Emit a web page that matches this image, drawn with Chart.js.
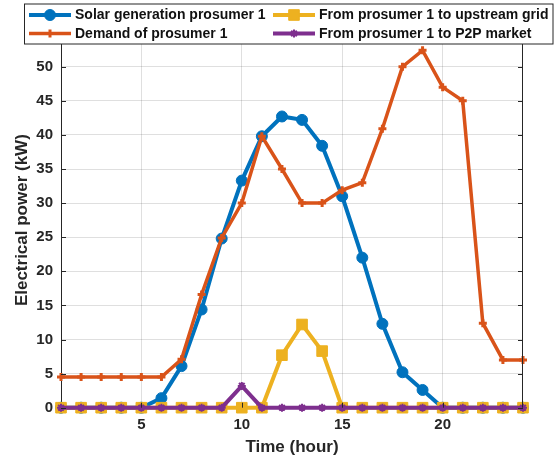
<!DOCTYPE html>
<html>
<head>
<meta charset="utf-8">
<title>Prosumer 1 power</title>
<script src="https://cdn.jsdelivr.net/npm/chart.js@4/dist/chart.umd.min.js"></script>
<style>
  body { margin: 0; background: #fff; }
  #wrap { width: 555px; height: 460px; }
</style>
</head>
<body>
<div id="wrap"><canvas id="chart1" width="555" height="460"></canvas></div>
<script>
// data, one value per hour
const hours = [1,2,3,4,5,6,7,8,9,10,11,12,13,14,15,16,17,18,19,20,21,22,23,24];
const solar = [0,0,0,0,0,1.4,6.1,14.4,24.8,33.3,39.8,42.7,42.2,38.4,31.0,22.0,12.3,5.2,2.6,0,0,0,0,0];
const demand = [4.5,4.5,4.5,4.5,4.5,4.5,7.1,16.6,24.9,30.0,39.8,35.0,30.0,30.0,31.9,33.0,40.9,50.0,52.4,47.0,45.0,12.4,7.0,7.0];
const toGrid = [0,0,0,0,0,0,0,0,0,0,0,7.7,12.2,8.3,0,0,0,0,0,0,0,0,0,0];
const toP2P = [0,0,0,0,0,0,0,0,0,3.2,0,0,0,0,0,0,0,0,0,0,0,0,0,0];

const xTicks = [5, 10, 15, 20];
const yTicks = [0, 5, 10, 15, 20, 25, 30, 35, 40, 45, 50];

const labels = [
  "Solar generation prosumer 1",
  "Demand of prosumer 1",
  "From prosumer 1 to upstream grid",
  "From prosumer 1 to P2P market"
];

const BLUE = "#0072BD", ORANGE = "#D95319", YELLOW = "#EDB120", PURPLE = "#7E2F8E";
const AXIS = "#262626";
const FONT = "'Liberation Sans', Arial, Helvetica, sans-serif";

function pts(ys) {
  return hours.map((h, i) => ({ x: h, y: ys[i] }));
}

function series(label, ys, color, style, radius, pbw, lw, order) {
  return {
    label: label,
    data: pts(ys),
    borderColor: color,
    backgroundColor: color,
    borderWidth: lw,
    pointStyle: style,
    pointRadius: radius,
    pointBorderWidth: pbw,
    pointBackgroundColor: color,
    pointBorderColor: color,
    tension: 0,
    clip: false,
    order: order
  };
}

const datasets = [
  series(labels[0], solar, BLUE, "circle", 5.5, 1, 4, 3),
  series(labels[1], demand, ORANGE, "cross", 4, 3, 3.5, 2),
  series(labels[2], toGrid, YELLOW, "rect", 7.5, 1, 4, 1),
  series(labels[3], toP2P, PURPLE, "star", 4, 2, 4, 0)
];

// legend styles, same look as the datasets
const legendItems = [
  { text: labels[0], color: BLUE, style: "circle", r: 5.5, bw: 1, lw: 4, x: 29, y: 15 },
  { text: labels[1], color: ORANGE, style: "cross", r: 4, bw: 3, lw: 3.5, x: 29, y: 33.5 },
  { text: labels[2], color: YELLOW, style: "rect", r: 7.5, bw: 1, lw: 4, x: 273, y: 15 },
  { text: labels[3], color: PURPLE, style: "star", r: 4, bw: 2, lw: 4, x: 273, y: 33.5 }
];

// box on the top/right, inward ticks, and the matlab style legend
const boxPlugin = {
  id: "boxPlugin",
  afterDraw(chart) {
    const ctx = chart.ctx;
    const a = chart.chartArea;
    const xs = chart.scales.x, ys = chart.scales.y;
    ctx.save();
    ctx.strokeStyle = AXIS;
    ctx.lineWidth = 1;
    ctx.beginPath();
    ctx.moveTo(a.left, a.top + 0.5);
    ctx.lineTo(a.right, a.top + 0.5);
    ctx.moveTo(a.right - 0.5, a.top);
    ctx.lineTo(a.right - 0.5, a.bottom);
    // inward ticks
    yTicks.forEach(v => {
      const py = Math.round(ys.getPixelForValue(v)) + 0.5;
      ctx.moveTo(a.left, py); ctx.lineTo(a.left + 5, py);
      ctx.moveTo(a.right, py); ctx.lineTo(a.right - 5, py);
    });
    xTicks.forEach(v => {
      const px = Math.round(xs.getPixelForValue(v)) + 0.5;
      ctx.moveTo(px, a.bottom); ctx.lineTo(px, a.bottom - 5);
      ctx.moveTo(px, a.top); ctx.lineTo(px, a.top + 5);
    });
    ctx.stroke();

    // legend box
    ctx.fillStyle = "#fff";
    ctx.fillRect(24, 3.5, 529, 40.5);
    ctx.strokeStyle = AXIS;
    ctx.strokeRect(24.5, 4, 528.5, 40);

    legendItems.forEach(it => {
      ctx.strokeStyle = it.color;
      ctx.fillStyle = it.color;
      ctx.lineWidth = it.lw;
      ctx.beginPath();
      ctx.moveTo(it.x, it.y);
      ctx.lineTo(it.x + 42, it.y);
      ctx.stroke();
      ctx.lineWidth = it.bw;
      if (Chart.helpers && Chart.helpers.drawPoint) {
        Chart.helpers.drawPoint(ctx, { pointStyle: it.style, radius: it.r, borderWidth: it.bw, rotation: 0 }, it.x + 21, it.y);
      }
      ctx.fillStyle = "#111";
      ctx.font = "bold 14px " + FONT;
      ctx.textBaseline = "middle";
      ctx.textAlign = "left";
      ctx.fillText(it.text, it.x + 46, it.y + 0.5);
    });
    ctx.restore();
  }
};

const ctx1 = document.getElementById("chart1");
const chart = new Chart(ctx1, {
  type: "line",
  data: { datasets: datasets },
  plugins: [boxPlugin],
  options: {
    responsive: false,
    animation: false,
    layout: { padding: { top: 32.6, right: 32, left: 0, bottom: 0 } },
    plugins: {
      legend: { display: false },
      tooltip: { enabled: false }
    },
    scales: {
      x: {
        type: "linear",
        min: 1,
        max: 24,
        afterBuildTicks: s => { s.ticks = xTicks.map(v => ({ value: v })); },
        afterFit: s => { s.height = 52.3; },
        grid: { color: "rgba(38,38,38,0.15)", drawTicks: false },
        border: { color: AXIS, width: 1 },
        ticks: { color: AXIS, padding: 8, font: { family: FONT, size: 15, weight: "bold" } },
        title: {
          display: true,
          text: "Time (hour)",
          color: AXIS,
          padding: { top: 0, bottom: 2 },
          font: { family: FONT, size: 17, weight: "bold" }
        }
      },
      y: {
        min: 0,
        max: 55,
        afterBuildTicks: s => { s.ticks = yTicks.map(v => ({ value: v })); },
        afterFit: s => { s.width = 61; },
        grid: { color: "rgba(38,38,38,0.15)", drawTicks: false },
        border: { color: AXIS, width: 1 },
        ticks: { color: AXIS, padding: 8, font: { family: FONT, size: 15, weight: "bold" } },
        title: {
          display: true,
          text: "Electrical power (kW)",
          color: AXIS,
          padding: { top: 12, bottom: 0 },
          font: { family: FONT, size: 17, weight: "bold" }
        }
      }
    }
  }
});
</script>
</body>
</html>
